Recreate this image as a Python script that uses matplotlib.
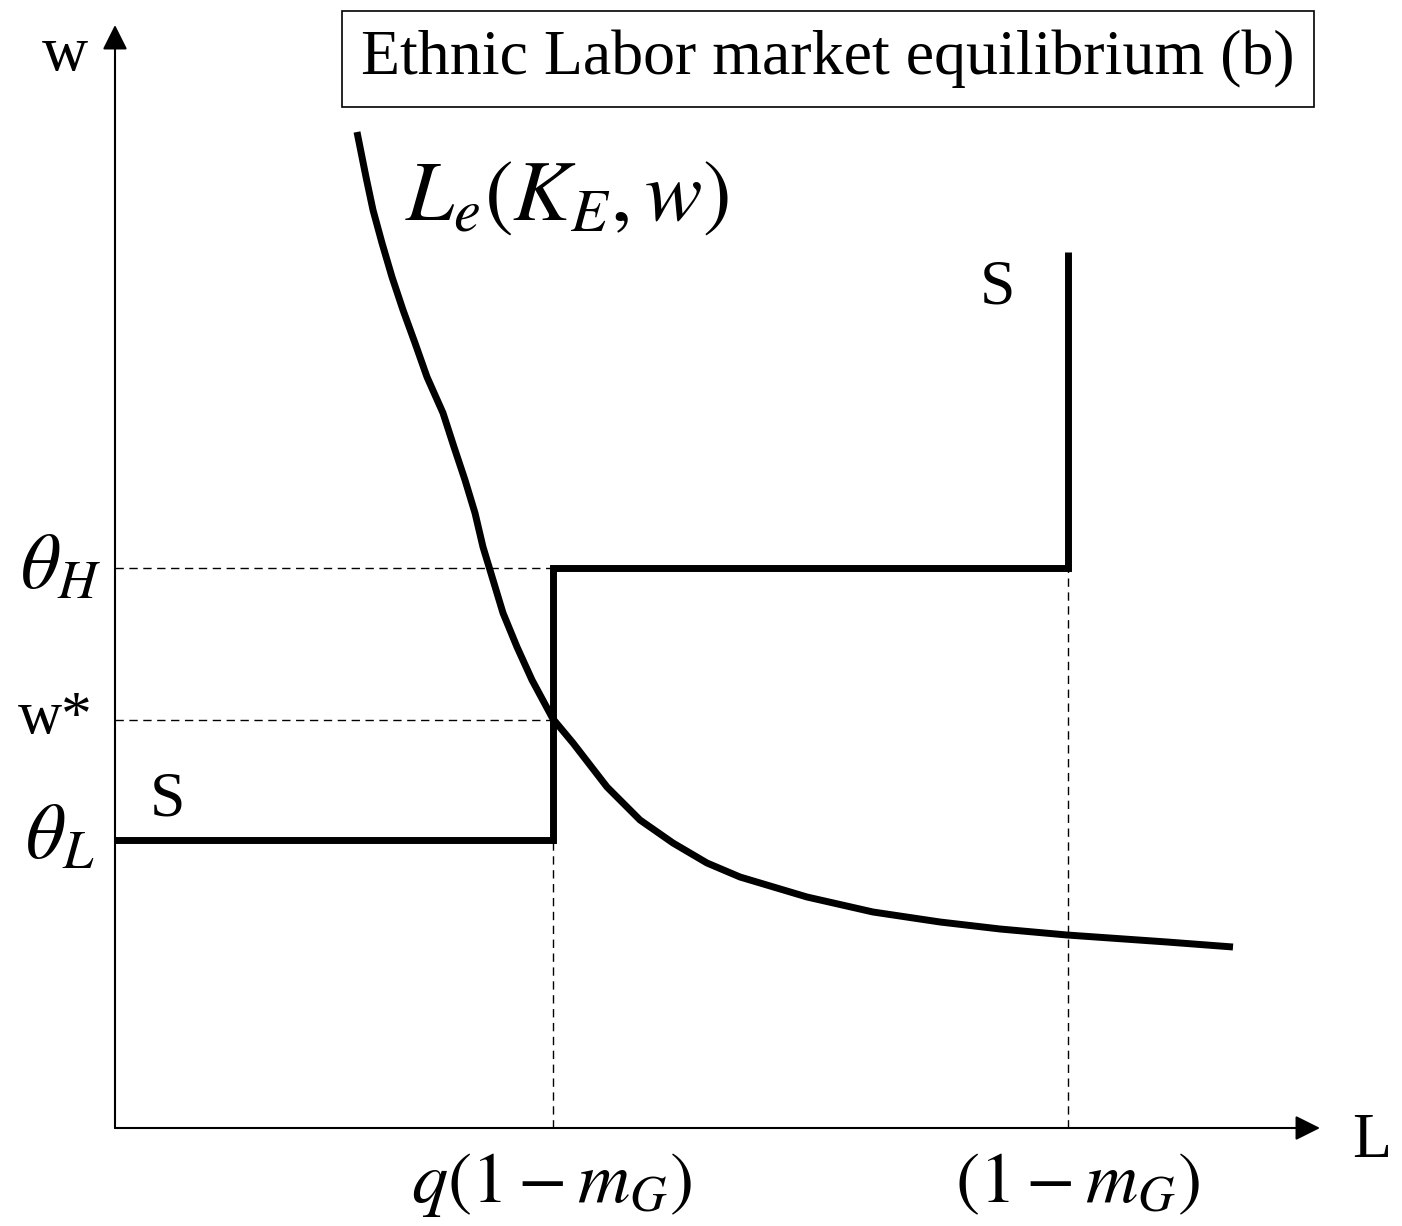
import matplotlib
matplotlib.use("Agg")
import matplotlib.pyplot as plt
import numpy as np

plt.rcParams['mathtext.fontset'] = 'stix'
plt.rcParams['font.family'] = ['Liberation Serif', 'DejaVu Serif']

# ---- data (units; origin at axes corner) ----
theta_L = 288
w_star = 408
theta_H = 560
q_lab = 438        # q(1 - m_G)
lab_total = 953    # (1 - m_G)
s_top = 876

supply_x = [0, q_lab, q_lab, lab_total, lab_total]
supply_y = [theta_L, theta_L, theta_H, theta_H, s_top]

demand_x = [242, 251, 258, 267, 277, 288, 300, 312, 328, 339, 350, 360, 368,
            375, 388, 402, 417, 438, 458, 492, 525, 558, 592, 625, 692, 758,
            825, 885, 952, 1052, 1118]
demand_y = [996, 951, 918, 885, 851, 818, 785, 751, 715, 681, 648, 615, 581,
            558, 515, 481, 448, 409, 385, 341, 308, 285, 265, 251, 231, 216,
            206, 199, 193, 186, 181]

x_end = 1205
y_end = 1103

fig = plt.figure(figsize=(14.02, 12.26), dpi=100)
ax = fig.add_axes([0, 0, 1, 1])
ax.set_xlim(-115, 1402 - 115)
ax.set_ylim(1128 - 1226, 1128)
ax.axis('off')

# axes with arrows
ax.annotate('', xy=(x_end, 0), xytext=(0, 0),
            arrowprops=dict(arrowstyle='-|>', lw=1.5, color='black',
                            mutation_scale=38, shrinkA=0, shrinkB=0))
ax.annotate('', xy=(0, y_end), xytext=(0, 0),
            arrowprops=dict(arrowstyle='-|>', lw=1.5, color='black',
                            mutation_scale=38, shrinkA=0, shrinkB=0))

# dashed guides
dkw = dict(color='black', lw=1.0, ls=(0, (6, 4)))
ax.plot([0, q_lab], [theta_H, theta_H], **dkw)
ax.plot([0, q_lab], [w_star, w_star], **dkw)
ax.plot([q_lab, q_lab], [0, theta_L], **dkw)
ax.plot([lab_total, lab_total], [0, theta_H], **dkw)

# supply and demand
ax.plot(supply_x, supply_y, color='black', lw=5, solid_joinstyle='miter',
        solid_capstyle='butt')
ax.plot(demand_x, demand_y, color='black', lw=5, solid_capstyle='butt',
        solid_joinstyle='round')

# labels
ax.text(-50, 1073, 'w', fontsize=46, ha='center', va='center')
ax.text(1257, -14, 'L', fontsize=46, ha='center', va='center')
ax.text(-54, 558, r'$\theta_H$', fontsize=56, ha='center', va='center')
ax.text(-60, 410, 'w*', fontsize=44, ha='center', va='center')
ax.text(-55, 288, r'$\theta_L$', fontsize=56, ha='center', va='center')
ax.text(53, 327, 'S', fontsize=46, ha='center', va='center')
ax.text(882, 840, 'S', fontsize=46, ha='center', va='center')
ax.text(452, 929, r'$L_e(K_E,w)$', fontsize=62, ha='center', va='center')
ax.text(q_lab - 1, -57, r'$q(1-m_G)$', fontsize=52, ha='center', va='center')
ax.text(lab_total + 10, -57, r'$(1-m_G)$', fontsize=52, ha='center', va='center')

ax.text(713, 1069, 'Ethnic Labor market equilibrium (b)', fontsize=46,
        ha='center', va='center',
        bbox=dict(boxstyle='square,pad=0.3', fc='white', ec='black', lw=1.2))

fig.savefig('out.png', dpi=100)
